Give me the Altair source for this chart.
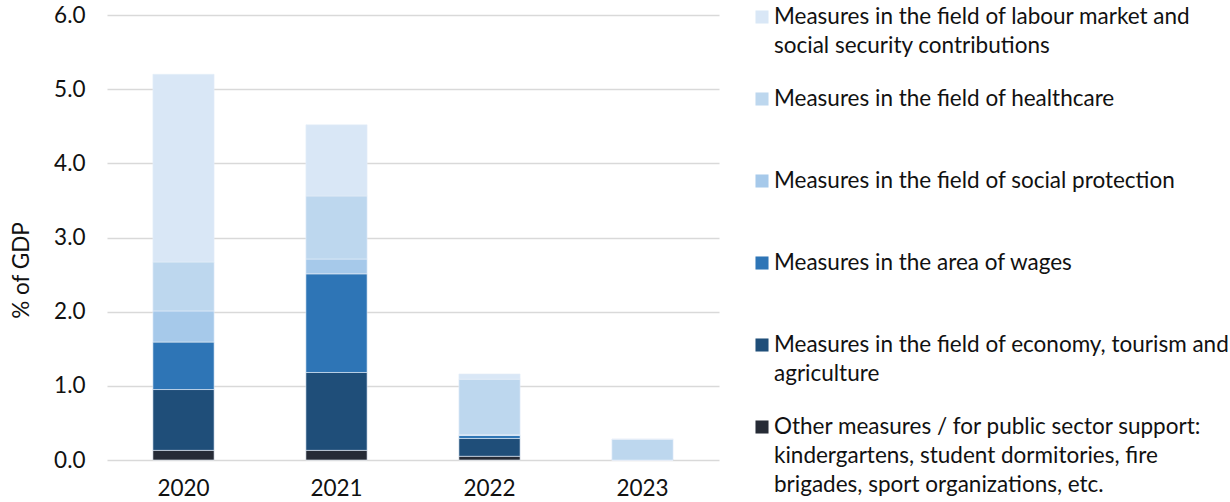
import altair as alt
import pandas as pd

# Fiscal support measures by year, % of GDP
years = ["2020", "2021", "2022", "2023"]

measures = [
    "Other measures / for public sector support: kindergartens, student dormitories, fire brigades, sport organizations, etc.",
    "Measures in the field of economy, tourism and agriculture",
    "Measures in the area of wages",
    "Measures in the field of social protection",
    "Measures in the field of healthcare",
    "Measures in the field of labour market and social security contributions",
]

# Legend labels broken into lines
legend_lines = [
    ["Other measures / for public sector support:", "kindergartens, student dormitories, fire", "brigades, sport organizations, etc."],
    ["Measures in the field of economy, tourism and", "agriculture"],
    ["Measures in the area of wages"],
    ["Measures in the field of social protection"],
    ["Measures in the field of healthcare"],
    ["Measures in the field of labour market and", "social security contributions"],
]

other = [0.13, 0.13, 0.05, 0.0]
economy = [0.82, 1.05, 0.24, 0.0]
wages = [0.64, 1.33, 0.04, 0.0]
social = [0.42, 0.20, 0.01, 0.0]
health = [0.66, 0.85, 0.75, 0.28]
labour = [2.53, 0.96, 0.07, 0.0]

colors = ["#262b36", "#1f4e79", "#2e75b6", "#a6c9ea", "#bdd7ee", "#d9e7f6"]

series = [other, economy, wages, social, health, labour]
rows = []
for rank, (name, vals) in enumerate(zip(measures, series)):
    for yr, v in zip(years, vals):
        rows.append({"year": yr, "measure": name, "value": v, "rank": rank})
df = pd.DataFrame(rows)

FONT = "Lato"
FS = 22.5

bars = alt.Chart(df).mark_bar(stroke="#e6eef8", strokeWidth=0.6).encode(
    x=alt.X("year:N", sort=years,
            scale=alt.Scale(paddingInner=0.6, paddingOuter=0.3),
            axis=alt.Axis(title=None, labelAngle=0, domain=False, ticks=False,
                          labelPadding=17, labelFontSize=FS, labelFont=FONT,
                          labelColor="#111111")),
    y=alt.Y("value:Q", stack="zero",
            scale=alt.Scale(domain=[0, 6], nice=False),
            axis=alt.Axis(title="% of GDP", values=[0, 1, 2, 3, 4, 5, 6], format=".1f",
                          domain=False, ticks=False, labelPadding=22,
                          labelFontSize=FS, labelFont=FONT, labelColor="#111111",
                          gridColor="#d9d9d9", gridWidth=1.3,
                          titleFont=FONT, titleFontSize=FS, titleFontWeight="normal",
                          titleColor="#111111", titleAngle=-90,
                          titleX=-86, titleY=255, titleAlign="center",
                          titleBaseline="middle")),
    color=alt.Color("measure:N", scale=alt.Scale(domain=measures, range=colors), legend=None),
    order=alt.Order("rank:Q", sort="ascending"),
).properties(width=612, height=445)

# Hand-built legend, top entry first
leg_df = pd.DataFrame({
    "measure": measures[::-1],
    "lines": legend_lines[::-1],
})

leg_y = alt.Y("measure:N", sort=measures[::-1],
              scale=alt.Scale(type="point", padding=0, range=[2, 412]), axis=None)

leg_sym = alt.Chart(leg_df).mark_square(size=170, opacity=1).encode(
    x=alt.value(15),
    y=leg_y,
    color=alt.Color("measure:N", scale=alt.Scale(domain=measures, range=colors), legend=None),
)

leg_txt = alt.Chart(leg_df).mark_text(
    align="left", baseline="alphabetic", dy=7, font=FONT, fontSize=FS,
    lineHeight=29, color="#111111",
).encode(
    x=alt.value(27),
    y=leg_y,
    text="lines",
)

legend = alt.layer(leg_sym, leg_txt).properties(width=470, height=445)

chart = alt.hconcat(bars, legend, spacing=28, bounds="flush").configure(
    padding={"left": 10, "top": 4, "right": 0, "bottom": 0},
).configure_view(stroke=None).configure_concat(spacing=28)

chart.save("out.html", embed_options={"renderer": "svg", "actions": False})
